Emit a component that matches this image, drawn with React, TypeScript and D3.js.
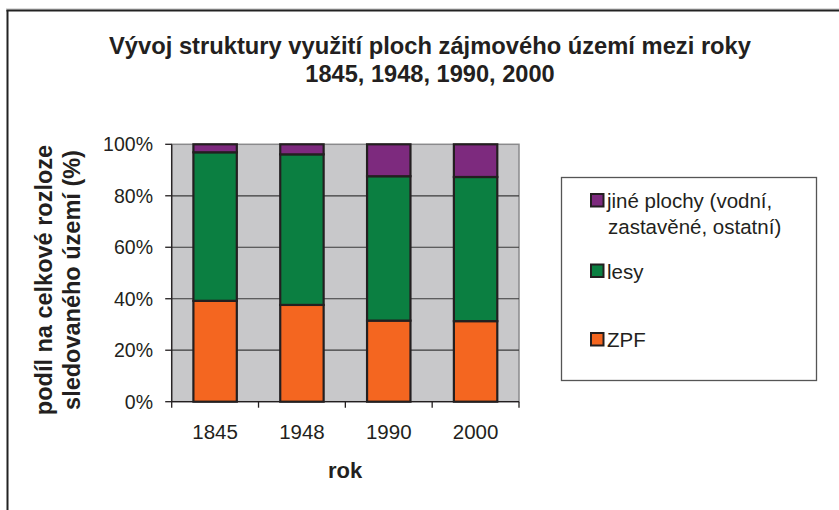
import React from "react";
import * as d3 from "d3";

const categories = ["1845", "1948", "1990", "2000"];
const zpf = [39.2, 37.6, 31.5, 31.3];
const lesy = [57.7, 58.5, 56.1, 56.0];
const jine = [3.1, 3.9, 12.4, 12.7];
const yTicks = [0, 20, 40, 60, 80, 100];
const seriesNames = ["ZPF", "lesy", "jiné plochy"];
const seriesColors = ["#F46620", "#0B7F41", "#7D2A7E"];

const W = 839;
const H = 510;
const FONT = "'Liberation Sans', Arial, sans-serif";

export default function App() {
  const left = 171.7;
  const right = 519;
  const top = 144.3;
  const bottom = 401.7;

  const x = d3.scaleBand<string>().domain(categories).range([left, right]).paddingInner(0.5).paddingOuter(0.25);
  const y = d3.scaleLinear().domain([0, 100]).range([bottom, top]);

  const rows = categories.map((c, i) => ({ cat: c, ZPF: zpf[i], lesy: lesy[i], "jiné plochy": jine[i] }));
  const stack = d3.stack<any>().keys(seriesNames);
  const layers = stack(rows);

  const step = (right - left) / categories.length;
  const xTickPos = d3.range(categories.length + 1).map((i) => left + i * step);

  return (
    <svg width={W} height={H} style={{ position: "absolute", left: 0, top: 0, display: "block" }} fontFamily={FONT}>
      <rect x={0} y={0} width={W} height={H} fill="#fff" />
      {/* outer frame: top and left */}
      <line x1={6} y1={9} x2={W} y2={9} stroke="#bbb" strokeWidth={1} />
      <line x1={6.5} y1={10.5} x2={W} y2={10.5} stroke="#222" strokeWidth={2} />
      <line x1={7.5} y1={10} x2={7.5} y2={H} stroke="#222" strokeWidth={2} />

      {/* title */}
      <text x={430} y={54} textAnchor="middle" fontSize={23.6} fontWeight="bold" fill="#231f20" textLength={642} lengthAdjust="spacingAndGlyphs">
        Vývoj struktury využití ploch zájmového území mezi roky
      </text>
      <text x={430} y={82} textAnchor="middle" fontSize={23.6} fontWeight="bold" fill="#231f20">
        1845, 1948, 1990, 2000
      </text>

      {/* plot background */}
      <rect x={left} y={top} width={right - left} height={bottom - top} fill="#C8C8CA" stroke="#8a8a8c" strokeWidth={1.5} />
      {yTicks.filter((t) => t > 0 && t < 100).map((t) => (
        <line key={t} x1={left} x2={right} y1={y(t)} y2={y(t)} stroke="#3a3a3a" strokeWidth={1.2} />
      ))}

      {/* bars */}
      {layers.map((layer, li) =>
        layer.map((d, i) => (
          <rect
            key={li + "-" + i}
            x={x(categories[i])!}
            y={y(d[1])}
            width={x.bandwidth()}
            height={y(d[0]) - y(d[1])}
            fill={seriesColors[li]}
            stroke="#231f20"
            strokeWidth={2.2}
          />
        ))
      )}

      {/* y axis */}
      <line x1={left} x2={left} y1={top} y2={bottom} stroke="#231f20" strokeWidth={1.3} />
      {yTicks.map((t) => (
        <g key={t}>
          <line x1={left - 6.5} x2={left} y1={y(t)} y2={y(t)} stroke="#231f20" strokeWidth={1.3} />
          <text x={153} y={y(t) + 6.8} textAnchor="end" fontSize={19.5} fill="#231f20">
            {t}%
          </text>
        </g>
      ))}

      {/* x axis */}
      <line x1={left} x2={right} y1={bottom} y2={bottom} stroke="#231f20" strokeWidth={1.3} />
      {xTickPos.map((p, i) => (
        <line key={i} x1={p} x2={p} y1={bottom} y2={bottom + 6} stroke="#231f20" strokeWidth={1.3} />
      ))}
      {categories.map((c) => (
        <text key={c} x={x(c)! + x.bandwidth() / 2} y={439} textAnchor="middle" fontSize={20.5} fill="#231f20">
          {c}
        </text>
      ))}
      <text x={345} y={478} textAnchor="middle" fontSize={22} fontWeight="bold" fill="#231f20">
        rok
      </text>

      {/* y title */}
      <g transform="translate(52,280) rotate(-90)">
        <text x={0} y={0} textAnchor="middle" fontSize={23.5} fontWeight="bold" fill="#231f20">
          podíl na celkové rozloze
        </text>
        <text x={0} y={28} textAnchor="middle" fontSize={23.5} fontWeight="bold" fill="#231f20">
          sledovaného území (%)
        </text>
      </g>

      {/* legend */}
      <rect x={561.5} y={177.5} width={255} height={203} fill="#fff" stroke="#555" strokeWidth={1.3} />
      <rect x={591} y={194} width={12.5} height={12.5} fill={seriesColors[2]} stroke="#231f20" strokeWidth={2} />
      <text x={607} y={208} fontSize={20.5} fill="#231f20">jiné plochy (vodní,</text>
      <text x={608} y={234} fontSize={20.5} fill="#231f20">zastavěné, ostatní)</text>
      <rect x={591} y={264.5} width={12.5} height={12.5} fill={seriesColors[1]} stroke="#231f20" strokeWidth={2} />
      <text x={607} y={278.5} fontSize={20.5} fill="#231f20">lesy</text>
      <rect x={591} y={333} width={12.5} height={12.5} fill={seriesColors[0]} stroke="#231f20" strokeWidth={2} />
      <text x={607} y={347} fontSize={20.5} fill="#231f20">ZPF</text>
    </svg>
  );
}
